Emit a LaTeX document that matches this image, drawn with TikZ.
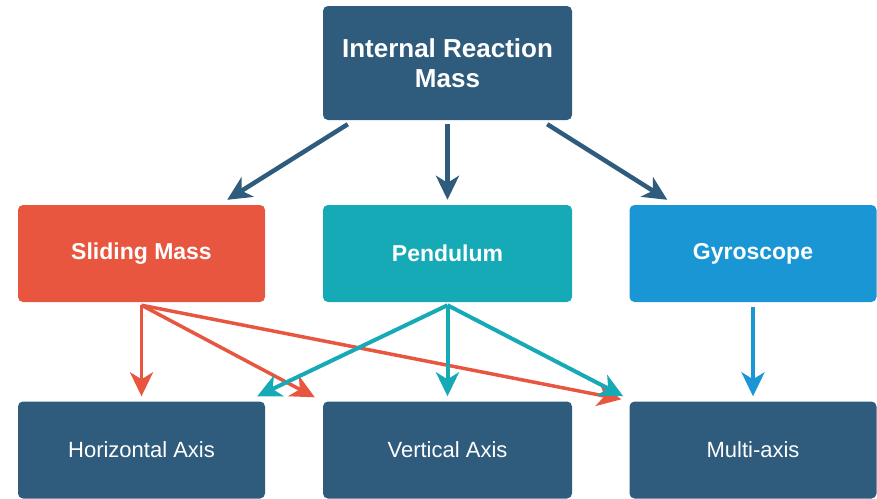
\documentclass[tikz,border=0pt]{standalone}
\usepackage{fontspec}
\setmainfont{Liberation Sans}
\usetikzlibrary{arrows.meta}
\definecolor{navy}{RGB}{47, 91, 124}
\definecolor{coral}{RGB}{232, 86, 64}
\definecolor{aqua}{RGB}{22, 169, 182}
\definecolor{sky}{RGB}{26, 150, 212}

\tikzset{
  box/.style={rounded corners=5pt, minimum width=247pt, minimum height=97pt,
    inner sep=0pt, text=white, align=center},
  head/.style={font=\bfseries\fontsize{23}{28}\selectfont},
  leaf/.style={font=\fontsize{22}{26}\selectfont},
  link/.style={line width=4pt, -{Stealth[length=24pt,width=23pt,inset=7pt]}}
}

\begin{document}
\begin{tikzpicture}[x=1pt,y=-1pt]
\useasboundingbox (0,0) rectangle (877,498);
\node[box,fill=navy,minimum width=249pt,minimum height=114pt,
  font=\bfseries\fontsize{26}{30}\selectfont] (irm) at (447.5,63) {Internal Reaction\\Mass};
\node[box,head,fill=coral] (slide) at (141.5,253.5) {Sliding Mass};
\node[box,head,fill=aqua,minimum width=249pt] (pend) at (447.5,253.5) {Pendulum};
\node[box,head,fill=sky] (gyro) at (753,253.5) {Gyroscope};
\node[box,leaf,fill=navy] (horiz) at (141.5,450) {Horizontal Axis};
\node[box,leaf,fill=navy,minimum width=249pt] (vert) at (447.5,450) {Vertical Axis};
\node[box,leaf,fill=navy] (multi) at (753,450) {Multi-axis};

\draw[navy,link,line width=4.5pt] ([xshift=25pt,yshift=-4pt]irm.south west) -- ([xshift=-38pt,yshift=5pt]slide.north east);
\draw[navy,link,line width=4.5pt] ([yshift=-4pt]irm.south) -- ([yshift=5pt]pend.north);
\draw[navy,link,line width=4.5pt] ([xshift=-25pt,yshift=-4pt]irm.south east) -- ([xshift=38pt,yshift=5pt]gyro.north west);

\draw[coral,link,line width=3.5pt] ([yshift=-3pt]slide.south) -- ([yshift=5pt]horiz.north);
\draw[coral,link,line width=3.5pt] ([yshift=-3pt]slide.south) -- ([xshift=-8pt,yshift=4pt]vert.north west);
\draw[coral,link,line width=3.5pt] ([yshift=-3pt]slide.south) -- ([xshift=-8pt,yshift=2pt]multi.north west);

\draw[aqua,link] ([yshift=-3pt]pend.south) -- ([xshift=-8pt,yshift=5pt]horiz.north east);
\draw[aqua,link] ([yshift=-3pt]pend.south) -- ([yshift=5pt]vert.north);
\draw[aqua,link] ([yshift=-3pt]pend.south) -- ([xshift=-6pt,yshift=5pt]multi.north west);

\draw[sky,link] ([yshift=-5pt]gyro.south) -- ([yshift=5pt]multi.north);
\end{tikzpicture}
\end{document}
